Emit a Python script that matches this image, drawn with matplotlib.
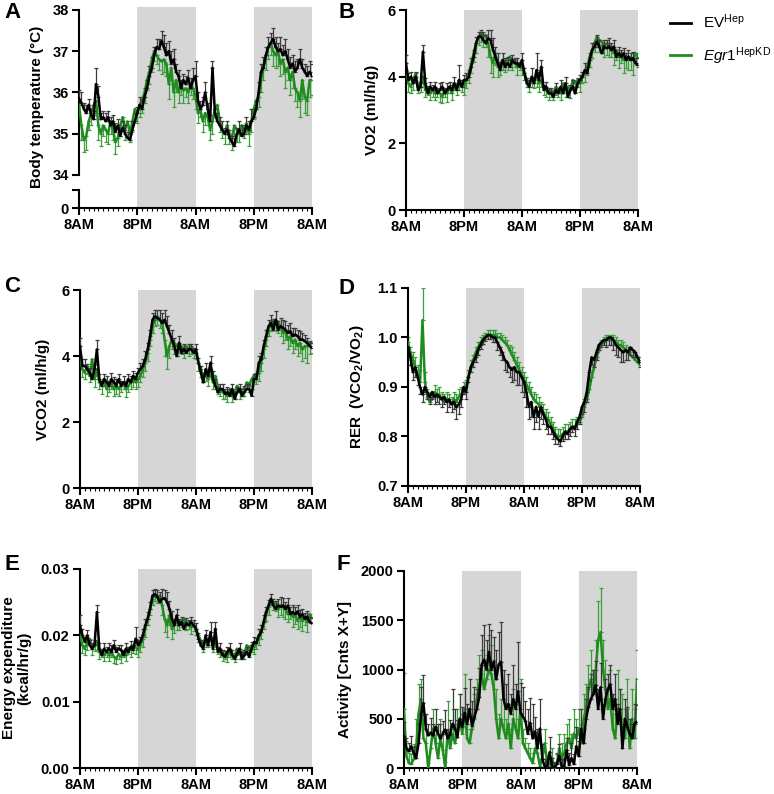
import numpy as np
import matplotlib
matplotlib.use('Agg')
import matplotlib.pyplot as plt
from matplotlib.patches import Rectangle
from matplotlib.lines import Line2D

plt.rcParams['font.family'] = 'Liberation Sans'
plt.rcParams['font.weight'] = 'bold'
plt.rcParams['mathtext.fontset'] = 'custom'
plt.rcParams['mathtext.rm'] = 'Liberation Sans:weight=normal'
plt.rcParams['mathtext.it'] = 'Liberation Sans:style=italic:weight=normal'
plt.rcParams['mathtext.bf'] = 'Liberation Sans:weight=bold'

# ---------------------------------------------------------------------------
# data: 30-min bins over 48 h, starting 8AM
# ---------------------------------------------------------------------------
tick_hours = [0, 12, 24, 36, 48]
tick_labels = ['8AM', '8PM', '8AM', '8PM', '8AM']
dark_start = [12, 36]
dark_len = 12

# A - body temperature
temp_ev = [35.85, 35.75, 35.6, 35.5, 35.7, 35.45, 35.35, 36.2, 35.9, 35.35, 35.4, 35.3,
           35.4, 35.2, 35.3, 35.05, 35.2, 34.95, 35.15, 35.0, 34.9, 34.85, 35.1, 35.3,
           35.5, 35.7, 35.6, 35.9, 36.1, 36.4, 36.6, 36.9, 37.1, 37.05, 37.25, 37.1,
           36.9, 37.0, 36.7, 36.8, 36.5, 36.4, 36.1, 36.3, 36.2, 36.35, 36.1, 36.3,
           36.4, 35.8, 35.6, 35.7, 36.0, 35.6, 35.3, 36.6, 35.5, 35.3, 35.2, 35.1,
           35.0, 35.1, 34.9, 34.8, 34.7, 35.0, 35.1, 34.95, 35.0, 35.2, 35.1, 35.3,
           35.4, 35.6, 36.0, 36.5, 36.6, 36.9, 37.1, 37.2, 37.3, 37.1, 37.0, 37.05,
           36.9, 37.0, 36.8, 36.6, 36.7, 36.5, 36.6, 36.8, 36.6, 36.5, 36.4, 36.5,
           36.4]
temp_ev_err = [.20, .25, .15, .20, .15, .15, .20, .40, .25, .15, .15, .20,
               .15, .20, .15, .20, .15, .20, .15, .20, .15, .15, .20, .20,
               .15, .20, .25, .20, .20, .25, .25, .20, .20, .25, .25, .30,
               .30, .25, .30, .25, .20, .15, .20, .15, .20, .20, .25, .30,
               .35, .20, .20, .20, .25, .15, .15, .15, .10, .20, .20, .20,
               .15, .20, .20, .15, .20, .15, .20, .25, .15, .20, .20, .30,
               .20, .20, .25, .20, .25, .20, .25, .25, .25, .25, .20, .30,
               .25, .30, .25, .25, .20, .25, .20, .25, .20, .20, .25, .25,
               .30]
temp_kd = [35.7, 35.2, 34.85, 34.95, 35.3, 35.5, 35.7, 35.8, 35.2, 35.0, 35.2, 35.1,
           35.0, 35.3, 35.1, 34.8, 34.9, 35.2, 35.4, 35.1, 35.3, 35.0, 35.3, 35.6,
           35.5, 35.7, 35.8, 36.0, 36.3, 36.5, 36.8, 37.0, 36.9, 36.8, 36.75, 36.8,
           36.7, 36.2, 36.6, 36.0, 36.3, 36.0, 36.2, 36.05, 36.1, 36.0, 36.2, 36.1,
           35.9, 35.5, 35.6, 35.3, 35.5, 35.4, 35.1, 35.3, 35.6, 35.7, 35.3, 35.1,
           35.0, 35.2, 35.0, 34.9, 35.2, 35.1, 35.0, 35.2, 35.1, 35.25, 35.0, 35.3,
           35.6, 35.8, 35.9, 36.3, 36.6, 36.9, 37.1, 37.2, 37.0, 36.9, 37.0, 36.7,
           36.8, 36.5, 36.6, 36.3, 36.5, 36.1, 36.0, 35.8, 36.3, 35.9, 35.8, 36.3,
           36.3]
temp_kd_err = [.30, .35, .30, .35, .20, .30, .25, .30, .35, .30, .25, .30,
               .25, .30, .25, .30, .20, .25, .30, .25, .25, .20, .25, .30,
               .25, .30, .30, .25, .25, .30, .30, .25, .20, .25, .30, .30,
               .30, .35, .30, .35, .30, .25, .25, .30, .20, .25, .25, .25,
               .30, .25, .20, .25, .30, .20, .25, .30, .20, .25, .25, .20,
               .25, .20, .25, .30, .25, .30, .20, .25, .20, .25, .30, .25,
               .25, .20, .25, .30, .30, .35, .30, .30, .35, .30, .35, .30,
               .35, .40, .30, .35, .40, .30, .35, .40, .45, .40, .35, .40,
               .35]

# B - VO2
vo2_ev = [4.4, 3.9, 4.0, 3.8, 4.0, 3.6, 3.7, 4.75, 3.8, 3.5, 3.7, 3.6,
          3.7, 3.5, 3.6, 3.7, 3.5, 3.6, 3.7, 3.6, 3.8, 3.6, 3.9, 3.7,
          3.9, 3.9, 4.0, 4.3, 4.6, 5.0, 5.2, 5.2, 5.1, 5.0, 5.15, 5.1,
          4.8, 4.6, 4.4, 4.2, 4.5, 4.3, 4.4, 4.3, 4.5, 4.4, 4.4, 4.3,
          4.5, 4.1, 3.8, 3.7, 4.0, 3.8, 4.2, 3.9, 4.3, 3.6, 3.7, 3.5,
          3.5, 3.4, 3.6, 3.5, 3.7, 3.5, 3.8, 3.4, 3.6, 3.7, 3.5, 3.8,
          3.9, 4.0, 4.2, 4.1, 4.5, 4.8, 4.9, 5.05, 4.9, 4.7, 4.9, 4.85,
          4.9, 4.8, 4.9, 4.6, 4.7, 4.6, 4.7, 4.5, 4.6, 4.5, 4.55, 4.4,
          4.35]
vo2_ev_err = [.25, .20, .15, .20, .15, .15, .15, .20, .15, .10, .15, .15,
              .15, .15, .20, .15, .15, .20, .15, .15, .20, .15, .45, .20,
              .15, .20, .20, .25, .20, .20, .15, .20, .25, .25, .25, .30,
              .35, .30, .30, .25, .20, .25, .20, .20, .15, .15, .15, .15,
              .20, .15, .15, .20, .25, .20, .50, .25, .20, .15, .15, .15,
              .15, .15, .20, .15, .20, .15, .20, .15, .15, .20, .20, .15,
              .15, .15, .20, .20, .20, .20, .15, .20, .20, .25, .20, .25,
              .25, .20, .20, .20, .20, .20, .15, .20, .20, .20, .20, .15,
              .20]
vo2_kd = [4.2, 3.8, 3.7, 3.9, 4.1, 3.7, 3.8, 4.0, 3.6, 3.7, 3.5, 3.6,
          3.5, 3.6, 3.5, 3.4, 3.6, 3.5, 3.7, 3.5, 3.8, 3.7, 3.9, 3.8,
          3.7, 3.9, 4.1, 4.4, 4.7, 5.0, 5.2, 5.3, 5.2, 5.25, 5.0, 4.6,
          4.4, 4.7, 4.3, 4.4, 4.5, 4.4, 4.5, 4.6, 4.4, 4.5, 4.3, 4.4,
          4.3, 4.1, 3.9, 3.8, 3.9, 3.9, 4.0, 3.8, 3.9, 3.7, 3.6, 3.5,
          3.6, 3.5, 3.7, 3.6, 3.5, 3.8, 3.6, 3.7, 3.6, 3.9, 3.8, 3.9,
          3.8, 4.0, 4.1, 4.3, 4.6, 4.8, 5.0, 5.2, 5.1, 5.05, 4.9, 5.0,
          4.95, 4.9, 4.7, 4.8, 4.6, 4.7, 4.5, 4.6, 4.5, 4.6, 4.5, 4.7,
          4.6]
vo2_kd_err = [.20, .25, .20, .30, .25, .20, .25, .20, .20, .25, .20, .20,
              .20, .20, .25, .20, .20, .25, .20, .20, .20, .25, .30, .25,
              .25, .25, .30, .30, .25, .30, .25, .25, .30, .35, .40, .50,
              .40, .35, .30, .35, .30, .25, .30, .25, .20, .20, .25, .20,
              .25, .20, .20, .25, .20, .25, .30, .25, .20, .25, .20, .20,
              .20, .20, .25, .20, .20, .25, .20, .20, .25, .20, .25, .20,
              .25, .20, .25, .25, .30, .25, .25, .30, .35, .30, .30, .35,
              .35, .30, .35, .30, .35, .30, .40, .35, .30, .40, .45, .35,
              .30]

# C - VCO2
vco2_ev = [4.3, 3.7, 3.7, 3.6, 3.5, 3.3, 3.6, 4.2, 3.3, 3.1, 3.3, 3.2,
           3.1, 3.3, 3.2, 3.1, 3.3, 3.1, 3.2, 3.1, 3.3, 3.2, 3.4, 3.3,
           3.5, 3.6, 3.7, 3.9, 4.2, 4.6, 5.1, 5.2, 5.15, 5.1, 5.0, 5.1,
           4.9, 4.7, 4.5, 4.3, 4.0, 4.4, 4.1, 4.2, 4.1, 4.2, 4.2, 4.1,
           4.2, 3.8, 3.5, 3.2, 3.6, 3.4, 3.8, 3.3, 3.1, 2.9, 3.0, 3.0,
           2.85, 2.9, 2.8, 3.0, 2.7, 2.9, 3.0, 2.8, 2.9, 3.0, 3.0, 2.8,
           3.3, 3.3, 3.8, 3.9, 4.3, 4.6, 4.9, 5.0, 4.8, 5.1, 4.8, 4.9,
           4.85, 4.8, 4.7, 4.75, 4.6, 4.65, 4.6, 4.5, 4.5, 4.45, 4.4, 4.3,
           4.25]
vco2_ev_err = [.25, .20, .20, .15, .15, .20, .15, .30, .15, .15, .15, .20,
               .15, .20, .15, .20, .15, .15, .20, .15, .15, .20, .15, .20,
               .15, .20, .20, .25, .20, .20, .20, .20, .25, .30, .30, .30,
               .30, .25, .30, .25, .20, .20, .15, .15, .15, .15, .15, .15,
               .15, .15, .20, .20, .20, .20, .20, .25, .20, .15, .15, .15,
               .15, .15, .20, .15, .20, .15, .15, .15, .20, .15, .15, .20,
               .15, .20, .20, .20, .20, .20, .20, .25, .25, .25, .25, .25,
               .25, .25, .25, .25, .25, .20, .20, .25, .20, .20, .15, .15,
               .15]
vco2_kd = [4.0, 3.6, 3.5, 3.7, 3.4, 3.9, 3.3, 3.6, 3.2, 3.1, 3.3, 3.0,
           3.1, 3.2, 3.0, 3.1, 3.0, 3.1, 3.2, 3.0, 3.1, 3.2, 3.3, 3.2,
           3.3, 3.4, 3.6, 3.8, 4.1, 4.5, 4.9, 5.1, 5.2, 5.1, 5.0, 4.5,
           4.0, 4.3, 4.5, 4.4, 4.3, 4.35, 4.3, 4.2, 4.3, 4.2, 4.3, 4.2,
           4.1, 3.8, 3.6, 3.4, 3.5, 3.3, 3.6, 3.2, 3.4, 3.1, 3.0, 2.9,
           2.9, 2.8, 3.0, 2.8, 2.9, 3.1, 2.9, 3.0, 3.0, 3.2, 3.1, 3.3,
           3.4, 3.4, 3.5, 3.8, 4.2, 4.5, 4.8, 5.0, 5.1, 5.05, 5.0, 4.9,
           4.7, 4.8, 4.5, 4.6, 4.4, 4.5, 4.3, 4.4, 4.2, 4.3, 4.3, 4.4,
           4.4]
vco2_kd_err = [.20, .25, .20, .25, .20, .20, .25, .20, .20, .25, .20, .20,
               .20, .20, .20, .25, .20, .20, .20, .25, .20, .20, .25, .20,
               .25, .20, .25, .25, .25, .20, .20, .20, .25, .25, .30, .50,
               .40, .35, .30, .35, .30, .25, .25, .25, .20, .20, .25, .25,
               .20, .25, .25, .20, .25, .20, .25, .20, .20, .25, .20, .20,
               .20, .20, .15, .20, .20, .20, .20, .20, .20, .20, .20, .20,
               .20, .25, .25, .25, .25, .20, .20, .25, .25, .30, .30, .30,
               .30, .30, .30, .30, .30, .30, .30, .30, .35, .35, .50, .35,
               .30]

# D - RER
rer_ev = [0.98, 0.96, 0.93, 0.94, 0.92, 0.90, 0.885, 0.90, 0.89, 0.88, 0.89, 0.88,
          0.885, 0.88, 0.875, 0.88, 0.87, 0.875, 0.865, 0.87, 0.86, 0.865, 0.875, 0.90,
          0.89, 0.92, 0.94, 0.95, 0.96, 0.975, 0.985, 0.995, 1.0, 1.005, 1.005, 1.0,
          1.0, 0.99, 0.98, 0.97, 0.955, 0.95, 0.94, 0.935, 0.94, 0.93, 0.93, 0.92,
          0.91, 0.89, 0.86, 0.87, 0.84, 0.86, 0.84, 0.86, 0.845, 0.835, 0.82, 0.82,
          0.81, 0.80, 0.795, 0.79, 0.80, 0.81, 0.805, 0.815, 0.82, 0.815, 0.83, 0.84,
          0.86, 0.87, 0.89, 0.93, 0.96, 0.955, 0.97, 0.985, 0.99, 0.995, 0.995, 1.0,
          1.0, 0.995, 0.985, 0.98, 0.975, 0.97, 0.975, 0.97, 0.98, 0.975, 0.97, 0.96,
          0.95]
rer_ev_err = [.010, .015, .015, .020, .015, .015, .015, .010, .015, .015, .015, .015,
              .015, .015, .015, .015, .020, .015, .015, .015, .025, .020, .015, .015,
              .015, .010, .010, .010, .010, .010, .008, .008, .008, .008, .008, .010,
              .010, .015, .015, .015, .020, .020, .020, .025, .025, .025, .025, .030,
              .030, .030, .025, .030, .025, .030, .025, .025, .020, .020, .015, .015,
              .015, .015, .010, .010, .010, .015, .010, .015, .010, .015, .015, .015,
              .015, .020, .020, .015, .015, .015, .015, .010, .010, .010, .015, .015,
              .015, .020, .020, .020, .025, .020, .020, .015, .015, .015, .010, .010,
              .010]
rer_kd = [0.99, 0.97, 0.955, 0.94, 0.925, 0.91, 1.035, 0.91, 0.88, 0.87, 0.875, 0.89,
          0.88, 0.885, 0.875, 0.87, 0.875, 0.87, 0.865, 0.875, 0.87, 0.88, 0.885, 0.895,
          0.90, 0.92, 0.94, 0.955, 0.97, 0.98, 0.99, 0.995, 1.0, 1.005, 1.005, 1.005,
          1.005, 1.0, 1.0, 0.995, 0.99, 0.985, 0.975, 0.965, 0.955, 0.945, 0.935, 0.925,
          0.915, 0.905, 0.895, 0.885, 0.875, 0.87, 0.865, 0.855, 0.85, 0.84, 0.835, 0.825,
          0.815, 0.805, 0.80, 0.80, 0.805, 0.81, 0.81, 0.815, 0.82, 0.82, 0.825, 0.83,
          0.84, 0.86, 0.875, 0.895, 0.92, 0.94, 0.96, 0.975, 0.985, 0.99, 0.995, 0.995,
          0.995, 0.995, 0.99, 0.985, 0.985, 0.98, 0.975, 0.97, 0.965, 0.96, 0.955, 0.95,
          0.945]
rer_kd_err = [.010, .010, .015, .020, .020, .025, .065, .020, .015, .015, .015, .015,
              .015, .015, .015, .015, .015, .015, .015, .015, .015, .015, .015, .015,
              .015, .015, .015, .010, .010, .010, .010, .010, .010, .010, .010, .010,
              .010, .010, .010, .010, .010, .010, .010, .015, .015, .015, .015, .015,
              .015, .015, .015, .015, .015, .015, .015, .015, .015, .015, .015, .015,
              .015, .015, .015, .015, .015, .015, .015, .015, .015, .015, .015, .015,
              .015, .015, .015, .015, .015, .015, .015, .010, .010, .010, .010, .010,
              .010, .010, .010, .010, .010, .010, .010, .010, .010, .010, .010, .010,
              .010]

# E - energy expenditure
ee_ev = [.0215, .0200, .0190, .0200, .0185, .0180, .0185, .0235, .0180, .0170, .0180, .0175,
         .0180, .0175, .0185, .0175, .0180, .0178, .0170, .0180, .0175, .0183, .0178, .0195,
         .0185, .0190, .0200, .0215, .0225, .0240, .0260, .0262, .0258, .0250, .0255, .0256,
         .0250, .0240, .0225, .0215, .0230, .0215, .0220, .0210, .0218, .0215, .0220, .0215,
         .0210, .0195, .0185, .0180, .0200, .0185, .0205, .0180, .0210, .0175, .0180, .0170,
         .0168, .0175, .0180, .0170, .0165, .0172, .0180, .0165, .0170, .0175, .0168, .0180,
         .0190, .0188, .0200, .0205, .0220, .0235, .0245, .0255, .0245, .0240, .0245, .0243,
         .0245, .0240, .0245, .0232, .0235, .0232, .0236, .0228, .0232, .0225, .0228, .0220,
         .0218]
ee_ev_err = [.0015, .0010, .0008, .0008, .0008, .0008, .0008, .0010, .0008, .0006, .0008, .0008,
             .0008, .0010, .0008, .0008, .0006, .0008, .0008, .0008, .0008, .0008, .0008, .0018,
             .0008, .0008, .0010, .0010, .0010, .0010, .0008, .0008, .0010, .0015, .0015, .0012,
             .0015, .0012, .0012, .0010, .0010, .0010, .0008, .0008, .0008, .0008, .0008, .0008,
             .0008, .0008, .0008, .0010, .0008, .0010, .0015, .0010, .0010, .0008, .0008, .0008,
             .0008, .0008, .0008, .0008, .0008, .0008, .0008, .0010, .0008, .0008, .0010, .0010,
             .0008, .0008, .0010, .0010, .0010, .0008, .0008, .0008, .0010, .0012, .0010, .0015,
             .0012, .0010, .0012, .0010, .0010, .0010, .0010, .0010, .0008, .0008, .0008, .0008,
             .0008]
ee_kd = [.0200, .0185, .0180, .0190, .0195, .0180, .0185, .0190, .0175, .0178, .0170, .0175,
         .0170, .0175, .0168, .0165, .0172, .0168, .0175, .0170, .0180, .0178, .0185, .0182,
         .0178, .0185, .0195, .0210, .0225, .0240, .0255, .0262, .0258, .0260, .0245, .0225,
         .0215, .0230, .0210, .0215, .0220, .0218, .0222, .0225, .0218, .0220, .0212, .0215,
         .0210, .0200, .0192, .0185, .0190, .0192, .0198, .0185, .0190, .0180, .0175, .0170,
         .0172, .0168, .0175, .0172, .0168, .0180, .0172, .0175, .0172, .0185, .0180, .0185,
         .0182, .0190, .0195, .0205, .0220, .0232, .0242, .0255, .0250, .0248, .0240, .0245,
         .0243, .0240, .0232, .0236, .0228, .0232, .0222, .0228, .0222, .0228, .0220, .0232,
         .0228]
ee_kd_err = [.0008, .0012, .0010, .0012, .0010, .0010, .0008, .0012, .0010, .0010, .0008, .0008,
             .0008, .0008, .0010, .0008, .0008, .0010, .0008, .0008, .0008, .0010, .0012, .0010,
             .0010, .0010, .0012, .0012, .0010, .0010, .0010, .0010, .0010, .0012, .0015, .0020,
             .0018, .0015, .0015, .0012, .0012, .0010, .0010, .0010, .0010, .0010, .0010, .0008,
             .0010, .0010, .0008, .0010, .0008, .0010, .0012, .0010, .0008, .0008, .0008, .0008,
             .0008, .0008, .0008, .0008, .0008, .0010, .0008, .0008, .0008, .0010, .0010, .0010,
             .0010, .0010, .0010, .0010, .0010, .0010, .0012, .0010, .0012, .0012, .0012, .0015,
             .0015, .0015, .0012, .0012, .0015, .0015, .0012, .0015, .0015, .0012, .0015, .0012,
             .0010]

# F - activity
act_ev = [320, 200, 170, 220, 150, 100, 250, 540, 660, 400, 330, 360,
          330, 420, 350, 300, 350, 390, 300, 340, 450, 400, 310, 500,
          420, 560, 450, 600, 430, 520, 600, 720, 1050, 1100, 1000, 1180,
          1000, 1080, 900, 1050, 1080, 700, 600, 650, 550, 700, 600, 780,
          560, 520, 480, 350, 460, 300, 370, 200, 400, 90, 10, 20,
          160, 20, 0, 40, 120, 10, 20, 180, 30, 100, 40, 220,
          120, 400, 250, 500, 620, 700, 750, 840, 600, 820, 500, 700,
          800, 850, 600, 700, 450, 600, 200, 500, 420, 350, 300, 450,
          470]
act_ev_err = [150, 100, 80, 100, 60, 120, 200, 280, 280, 150, 120, 150,
              120, 180, 100, 150, 130, 200, 100, 150, 350, 200, 180, 250,
              200, 250, 200, 300, 250, 300, 200, 300, 300, 350, 300, 280,
              400, 250, 300, 330, 400, 300, 250, 300, 200, 350, 250, 500,
              300, 300, 200, 250, 250, 350, 150, 200, 300, 150, 80, 50,
              150, 80, 60, 100, 120, 80, 60, 120, 120, 150, 100, 200,
              150, 200, 150, 200, 200, 250, 250, 250, 200, 250, 150, 200,
              150, 200, 150, 250, 200, 200, 150, 200, 200, 150, 150, 200,
              170]
act_kd = [600, 120, 50, 40, 90, 200, 550, 700, 300, 250, 0, 200,
          400, 250, 100, 300, 180, 0, 380, 200, 350, 250, 400, 500,
          350, 600, 300, 250, 400, 500, 700, 850, 950, 800, 900, 1000,
          950, 800, 500, 300, 500, 400, 300, 450, 200, 500, 400, 300,
          600, 250, 200, 150, 100, 50, 200, 150, 20, 100, 250, 50,
          30, 100, 0, 50, 200, 100, 150, 250, 300, 200, 350, 300,
          400, 250, 500, 600, 800, 900, 750, 1000, 1300, 1380, 1000, 800,
          600, 700, 400, 300, 600, 500, 400, 300, 600, 200, 500, 300,
          900]
act_kd_err = [360, 150, 100, 100, 150, 300, 300, 200, 200, 150, 50, 150,
              200, 150, 150, 200, 200, 60, 300, 150, 250, 200, 200, 250,
              200, 350, 200, 150, 200, 250, 200, 300, 250, 300, 250, 350,
              300, 300, 300, 250, 200, 300, 200, 200, 200, 300, 250, 200,
              300, 150, 100, 100, 100, 100, 150, 100, 40, 100, 150, 80,
              60, 100, 50, 100, 150, 150, 200, 200, 200, 150, 250, 200,
              200, 200, 250, 250, 250, 300, 250, 300, 400, 450, 300, 300,
              350, 300, 200, 250, 400, 300, 350, 300, 300, 250, 300, 300,
              300]

# ---------------------------------------------------------------------------
# styling
# ---------------------------------------------------------------------------
GREEN = '#1f8c1f'
GREEN_ERR = '#3c9f3c'
BLACK_ERR = '#3c3c3c'
GREY = '#d6d6d6'

W, H = 774, 794
fig = plt.figure(figsize=(W / 100, H / 100), dpi=100)


def px_axes(l, t, r, b):
    return fig.add_axes([l / W, 1 - b / H, (r - l) / W, (b - t) / H])


def shade(ax, lo, hi):
    for s in dark_start:
        ax.add_patch(Rectangle((s, lo), dark_len, hi - lo, facecolor=GREY,
                               edgecolor='none', zorder=0))


def style(ax, with_x=True):
    ax.spines['top'].set_visible(False)
    ax.spines['right'].set_visible(False)
    ax.spines['left'].set_linewidth(1.5)
    ax.spines['bottom'].set_linewidth(1.5)
    ax.tick_params(axis='y', width=1.5, length=5, labelsize=10.5, pad=2.5)
    ax.set_xlim(0, 48)
    if with_x:
        ax.set_xticks(tick_hours, labels=tick_labels)
        ax.set_xticks(np.arange(0, 49, 1), minor=True)
        ax.tick_params(axis='x', which='major', width=1.5, length=5, labelsize=10.5, pad=2.5)
        ax.tick_params(axis='x', which='minor', width=0.8, length=2.5)
    else:
        ax.spines['bottom'].set_visible(False)
        ax.set_xticks([])


def draw(ax, ev, ev_err, kd, kd_err, ev_up, kd_up):
    ev = np.array(ev); kd = np.array(kd)
    ev_err = np.array(ev_err); kd_err = np.array(kd_err)
    x_ev = np.arange(len(ev)) * 0.5
    x_kd = np.arange(len(kd)) * 0.5
    z_kd = np.zeros_like(kd_err)
    z_ev = np.zeros_like(ev_err)
    kd_yerr = [z_kd, kd_err] if kd_up else [kd_err, z_kd]
    ev_yerr = [z_ev, ev_err] if ev_up else [ev_err, z_ev]
    ax.errorbar(x_kd, kd, yerr=kd_yerr, fmt='none', ecolor=GREEN_ERR,
                elinewidth=0.9, capsize=1.6, capthick=0.9, zorder=2)
    ax.plot(x_kd, kd, color=GREEN, lw=1.8, zorder=3)
    ax.errorbar(x_ev, ev, yerr=ev_yerr, fmt='none', ecolor=BLACK_ERR,
                elinewidth=0.9, capsize=1.6, capthick=0.9, zorder=4)
    ax.plot(x_ev, ev, color='black', lw=1.8, zorder=5)


# A - broken axis: upper part 34-38, lower stub at 0
axA = px_axes(79, 7, 312, 183)
axA_low = px_axes(79, 183, 312, 208)
style(axA, with_x=False)
style(axA_low)
axA.set_ylim(33.806, 38.07)
axA.set_yticks([34, 35, 36, 37, 38])
axA.spines['left'].set_bounds(34, 38)
shade(axA, 33.806, 38.07)
draw(axA, temp_ev, temp_ev_err, temp_kd, temp_kd_err, True, False)
axA_low.set_ylim(0, 1.39)
axA_low.set_yticks([0, 1], labels=['0', ''])
axA_low.spines['left'].set_bounds(0, 1)
shade(axA_low, 0, 1.39)
axA_low.patch.set_alpha(0)
axA.patch.set_alpha(0)

# B
axB = px_axes(406, 10, 638, 210)
style(axB)
axB.set_ylim(0, 6)
axB.set_yticks([0, 2, 4, 6])
shade(axB, 0, 6)
draw(axB, vo2_ev, vo2_ev_err, vo2_kd, vo2_kd_err, True, False)

# C
axC = px_axes(80, 290, 312, 488)
style(axC)
axC.set_ylim(0, 6)
axC.set_yticks([0, 2, 4, 6])
shade(axC, 0, 6)
draw(axC, vco2_ev, vco2_ev_err, vco2_kd, vco2_kd_err, True, False)

# D
axD = px_axes(408, 288, 640, 486)
style(axD)
axD.set_ylim(0.7, 1.1)
axD.set_yticks([0.7, 0.8, 0.9, 1.0, 1.1], labels=['0.7', '0.8', '0.9', '1.0', '1.1'])
shade(axD, 0.7, 1.1)
draw(axD, rer_ev, rer_ev_err, rer_kd, rer_kd_err, False, True)

# E
axE = px_axes(80, 569, 312, 768)
style(axE)
axE.set_ylim(0, 0.03)
axE.set_yticks([0, 0.01, 0.02, 0.03], labels=['0.00', '0.01', '0.02', '0.03'])
shade(axE, 0, 0.03)
draw(axE, ee_ev, ee_ev_err, ee_kd, ee_kd_err, True, False)

# F
axF = px_axes(404, 571, 637, 768)
style(axF)
axF.set_ylim(0, 2000)
axF.set_yticks([0, 500, 1000, 1500, 2000])
shade(axF, 0, 2000)
draw(axF, act_ev, act_ev_err, act_kd, act_kd_err, True, True)

# y labels (pixel positions)
def ylab(x, y, s, **kw):
    fig.text(x / W, 1 - y / H, s, rotation=90, ha='center', va='center',
             fontsize=11, fontweight='bold', **kw)

ylab(37, 107, 'Body temperature (°C)')
ylab(372, 110, 'VO2 (ml/h/g)')
ylab(43, 389, 'VCO2 (ml/h/g)')
ylab(357, 387, r'RER  (VCO$\mathregular{_2}$/VO$\mathregular{_2}$)')
ylab(17, 668, 'Energy expenditure\n(kcal/hr/g)', linespacing=1.1)
ylab(345, 670, 'Activity [Cnts X+Y]')

# panel letters
for letter, (lx, ly) in zip('ABCDEF', [(4, 2), (338, 2), (4, 276), (338, 278), (4, 554), (337, 554)]):
    fig.text(lx / W, 1 - ly / H, letter, fontsize=16, fontweight='bold', ha='left', va='top')

# legend
handles = [Line2D([], [], color='black', lw=2), Line2D([], [], color=GREEN, lw=2)]
labels = [r'$\mathregular{EV^{Hep}}$', r'$\mathit{Egr1}^{\mathregular{HepKD}}$']
fig.legend(handles, labels, loc='upper left', bbox_to_anchor=(656 / W, 1 + 1 / H),
           frameon=False, prop={'weight': 'normal', 'size': 11},
           handlelength=1.4, handletextpad=0.8, labelspacing=0.9)

fig.savefig('out.png', dpi=100)
